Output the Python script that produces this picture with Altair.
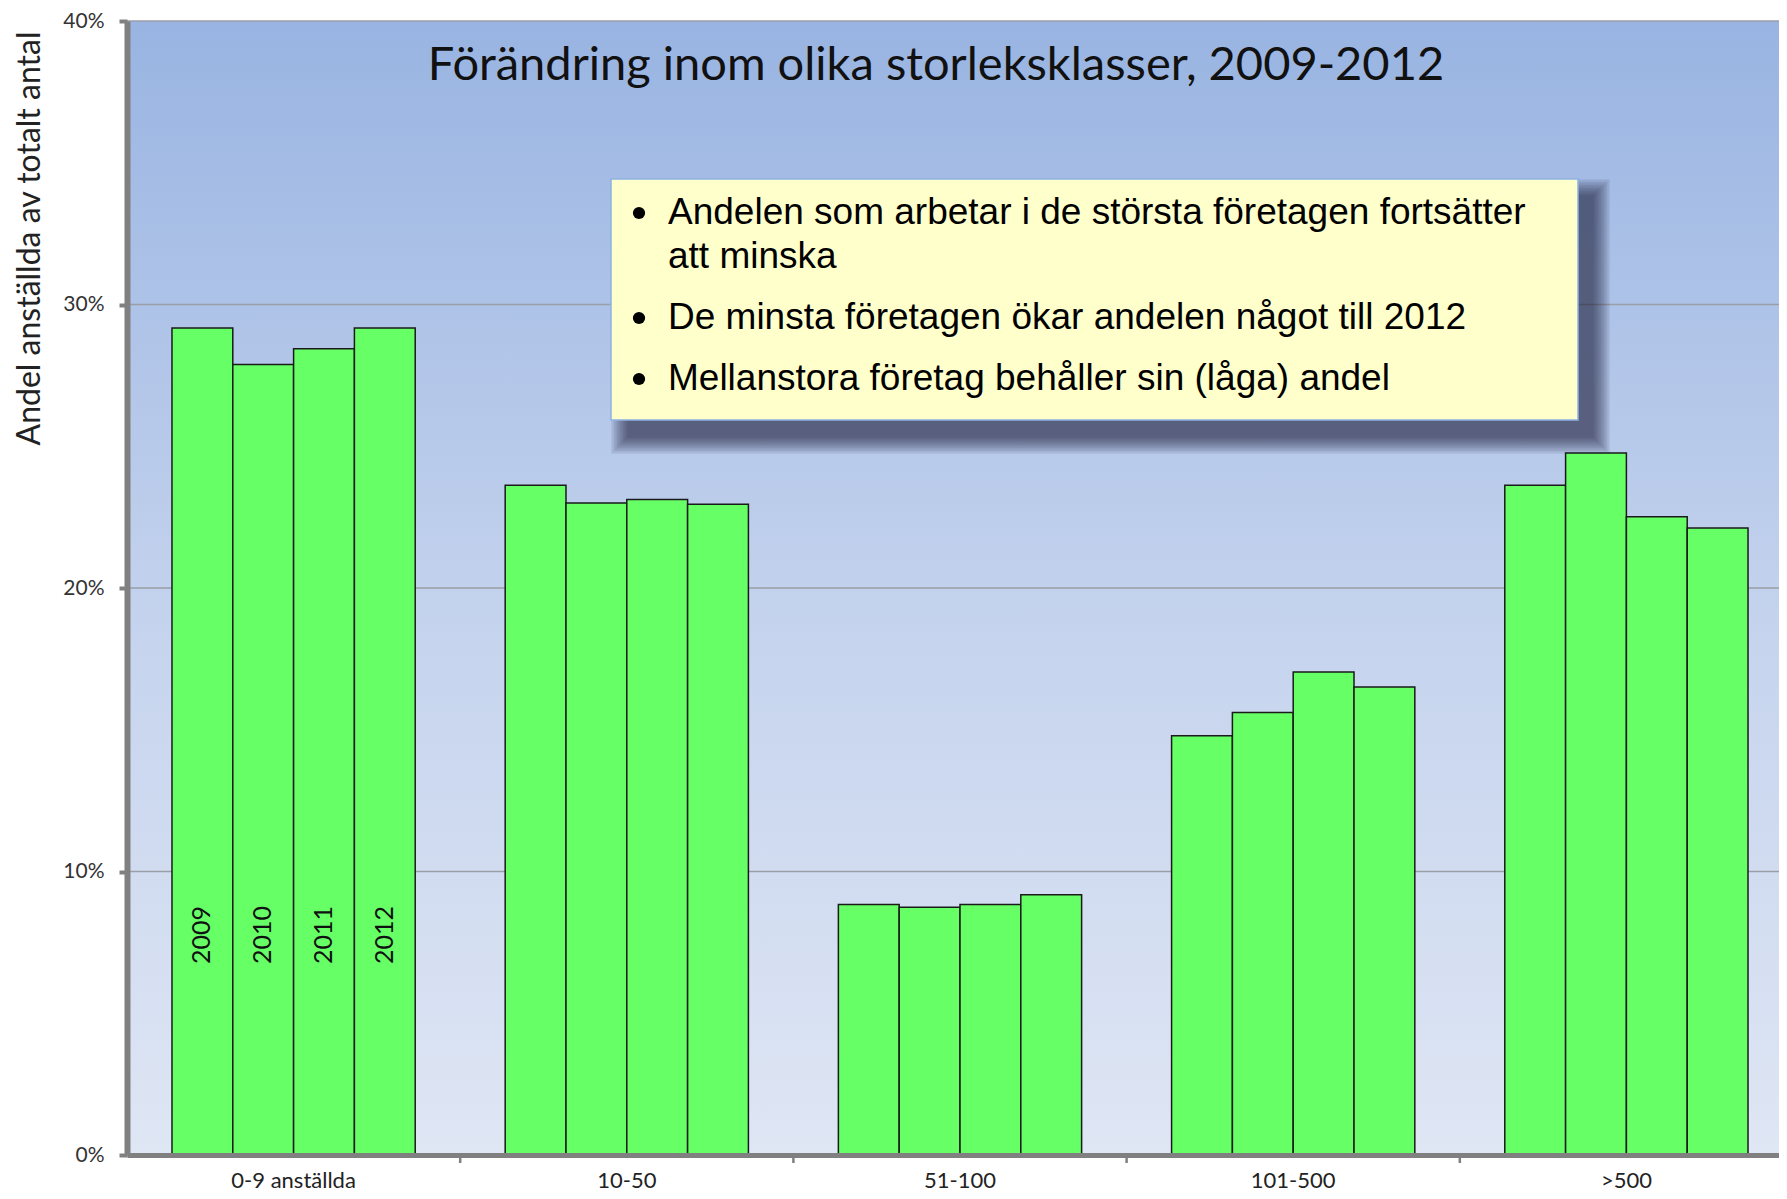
import altair as alt
import pandas as pd

# ---- data ----
categories = ["0-9 anställda", "10-50", "51-100", "101-500", ">500"]
years = ["2009", "2010", "2011", "2012"]
share_2009 = [0.2917, 0.2362, 0.0884, 0.1479, 0.2362]
share_2010 = [0.2788, 0.2300, 0.0874, 0.1561, 0.2476]
share_2011 = [0.2844, 0.2312, 0.0884, 0.1704, 0.2251]
share_2012 = [0.2917, 0.2295, 0.0918, 0.1651, 0.2212]
y_ticks = [0.0, 0.1, 0.2, 0.3, 0.4]
chart_title = "Förändring inom olika storleksklasser, 2009-2012"
y_title = "Andel anställda av totalt antal"
box_lines = [
    "Andelen som arbetar i de största företagen fortsätter",
    "att minska",
    "De minsta företagen ökar andelen något till 2012",
    "Mellanstora företag behåller sin (låga) andel",
]
box_bullets = [True, False, True, True]

series = {"2009": share_2009, "2010": share_2010, "2011": share_2011, "2012": share_2012}
rows = []
for y in years:
    for c, v in zip(categories, series[y]):
        rows.append({"cat": c, "year": y, "val": v})
df = pd.DataFrame(rows)
df_labels = df[df["cat"] == categories[0]]
df_ticks = pd.DataFrame({"t": y_ticks})
df_cats = pd.DataFrame({"cat": categories})
one = pd.DataFrame({"k": [0]})

W_RANGE = 1666
W = 1652
H = 1134
STEP = W_RANGE / len(categories)
FONT = "Lato"

xscale = alt.Scale(domain=categories, range=[0, W_RANGE], paddingInner=0.27, paddingOuter=0.135)
yscale = alt.Scale(domain=[0, 0.4])
xoff = alt.XOffset("year:N", scale=alt.Scale(domain=years, paddingInner=0, paddingOuter=0))

bg = alt.Chart(one).mark_rect(
    color=alt.LinearGradient(
        gradient="linear",
        stops=[alt.GradientStop(color="#99b4e2", offset=0),
               alt.GradientStop(color="#c6d4ee", offset=0.55),
               alt.GradientStop(color="#dfe6f4", offset=1)],
        x1=0, x2=0, y1=0, y2=1)
).encode(x=alt.value(0), x2=alt.value(W_RANGE), y=alt.value(0), y2=alt.value(H))

grid = alt.Chart(df_ticks).mark_rule(color="#9a9ea6", strokeWidth=1.5).encode(
    y=alt.Y("t:Q", scale=yscale), x=alt.value(0), x2=alt.value(W_RANGE))

bars = alt.Chart(df).mark_bar(color="#66ff66", stroke="#1a1a1a", strokeWidth=1.5).encode(
    x=alt.X("cat:N", scale=xscale, sort=categories,
            axis=alt.Axis(title=None, labelAngle=0, ticks=False, domainColor="#808080",
                          domainWidth=5, labelFont=FONT, labelFontSize=22, labelColor="#222222",
                          labelPadding=15, zindex=1)),
    xOffset=xoff,
    y=alt.Y("val:Q", scale=yscale,
            axis=alt.Axis(values=y_ticks, format="%", grid=False, domainColor="#808080",
                          domainWidth=6, tickColor="#808080", tickWidth=4, tickSize=8,
                          labelFont=FONT, labelFontSize=21, labelColor="#333333", labelPadding=15,
                          title=y_title, titleFont=FONT, titleFontSize=32, titleFontWeight="normal",
                          titleColor="#222222", titleX=-98, titleY=217, titleAngle=270,
                          titleAlign="center", titleBaseline="middle", zindex=1)),
)

year_labels = alt.Chart(df_labels).mark_text(angle=270, font=FONT, fontSize=25, color="#111111",
                                             baseline="middle", align="center").encode(
    x=alt.X("cat:N", scale=xscale), xOffset=xoff, text="year:N", y=alt.value(914))

xticks = alt.Chart(df_cats).mark_rule(color="#808080", strokeWidth=2.5, xOffset=STEP / 2).encode(
    x=alt.X("cat:N", scale=xscale, bandPosition=0.5), y=alt.value(H), y2=alt.value(H + 8))

# box geometry (view coords)
bx0, bx1, by0, by1 = 484, 1451, 158, 399
layers = [bg, grid, bars, year_labels, xticks]
N = 12
for i in range(N):
    e = 18 - i * 1.5
    layers.append(alt.Chart(one).mark_rect(color="#1a2233", opacity=0.07).encode(
        x=alt.value(bx0 + 18 - e), x2=alt.value(bx1 + 14 + e),
        y=alt.value(by0 + 18 - e), y2=alt.value(by1 + 16 + e)))
box = alt.Chart(one).mark_rect(color="#ffffcc", stroke="#8db3e2", strokeWidth=1.5).encode(
    x=alt.value(bx0), x2=alt.value(bx1), y=alt.value(by0), y2=alt.value(by1))
layers.append(box)

line_y = [192, 236, 297, 358]
df_box = pd.DataFrame({"line": box_lines, "ly": line_y, "b": box_bullets})
box_text = alt.Chart(df_box).mark_text(font="Liberation Sans", fontSize=37, color="#000000",
                                       align="left", baseline="middle").encode(
    x=alt.value(541), y=alt.Y("ly:Q", scale=None), text="line:N")
bullets = alt.Chart(df_box[df_box["b"]]).mark_circle(color="#000000", opacity=1, size=150).encode(
    x=alt.value(512), y=alt.Y("ly:Q", scale=None))
layers += [box_text, bullets]

title = alt.Chart(one).mark_text(text=chart_title, font=FONT, fontSize=47, color="#111111",
                                 align="center", baseline="middle").encode(
    x=alt.value(809), y=alt.value(45))
layers.append(title)

chart = alt.layer(*layers).properties(
    width=W, height=H,
    padding={"left": 119, "top": 13, "right": 0, "bottom": 40},
    autosize=alt.AutoSizeParams(type="none"),
).configure_view(stroke=None).configure(background="white")

chart.save("out.html", embed_options={"renderer": "svg", "actions": False})
